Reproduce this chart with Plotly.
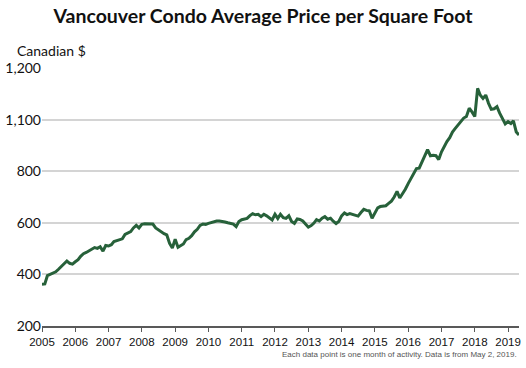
import plotly.graph_objects as go
import pandas as pd

# Monthly average price per square foot (Canadian $), Jan 2005 onward
prices = [
    362, 363, 395, 400, 403, 410, 420, 430, 442, 452, 443, 440,   # 2005
    449, 457, 470, 480, 485, 492, 500, 504, 501, 507, 490, 512,   # 2006
    510, 515, 527, 530, 533, 538, 555, 562, 566, 580, 590, 580,   # 2007
    594, 596, 596, 596, 595, 580, 572, 566, 558, 553, 520, 502,   # 2008
    536, 505, 510, 518, 535, 540, 550, 565, 575, 590, 595, 594,   # 2009
    598, 602, 606, 607, 607, 606, 603, 600, 598, 595, 585, 605,   # 2010
    612, 615, 617, 628, 635, 631, 633, 624, 633, 627, 620, 611,   # 2011
    633, 617, 633, 620, 617, 627, 605, 598, 615, 613, 607, 594,   # 2012
    583, 589, 598, 612, 607, 618, 624, 614, 618, 606, 597, 605,   # 2013
    627, 638, 632, 636, 633, 628, 626, 640, 652, 648, 646, 618,   # 2014
    640, 658, 663, 665, 666, 675, 684, 700, 722, 696, 712, 730,   # 2015
    752, 770, 790, 810, 812, 835, 860, 884, 860, 862, 860, 845,   # 2016
    875, 898, 915, 930, 952, 966, 980, 992, 1006, 1012, 1044, 1030,  # 2017
    1012, 1121, 1095, 1082, 1095, 1063, 1040, 1042, 1050, 1025, 1005, 983,  # 2018
    992, 985, 995, 952, 940,  # 2019
]
dates = pd.date_range("2005-01-01", periods=len(prices), freq="MS")

year_ticks = [str(y) for y in range(2005, 2020)]
y_tickvals = [200, 400, 600, 800, 1000, 1200]
y_ticktext = ["200", "400", "600", "800", "1,100", "1,200"]

fig = go.Figure()
fig.add_trace(go.Scatter(
    x=dates, y=prices, mode="lines",
    line=dict(color="#27613a", width=3),
    hoverinfo="skip",
))

fig.update_layout(
    width=526, height=368,
    margin=dict(l=36, r=5, t=68, b=42),
    paper_bgcolor="white", plot_bgcolor="white",
    showlegend=False,
    title=dict(
        text="<b>Vancouver Condo Average Price per Square Foot</b>",
        x=0.5, xanchor="center", xref="container",
        y=1 - 16 / 368, yanchor="middle", yref="container",
        font=dict(family="Lato", size=19.5, color="#111111"),
    ),
    xaxis=dict(
        type="date",
        range=["2005-01-01", "2019-05-01"],
        tickvals=[f"{y}-01-01" for y in year_ticks],
        ticktext=year_ticks,
        showgrid=False,
        showline=True, linecolor="#595959", linewidth=1.5,
        ticks="outside", ticklen=4, tickcolor="#595959", tickwidth=1,
        tickfont=dict(family="Liberation Sans", size=11.5, color="#111111"),
        zeroline=False,
    ),
    yaxis=dict(
        range=[200, 1200],
        tickvals=y_tickvals,
        ticktext=y_ticktext,
        showgrid=True, gridcolor="#d4d4d4", gridwidth=1.5,
        showline=False, zeroline=False,
        ticks="", ticklen=0,
        tickfont=dict(family="Lato", size=14, color="#111111"),
    ),
    annotations=[
        dict(text="Canadian $", xref="paper", yref="paper",
             x=(9 - 36) / 485, y=1 + (68 - 50) / 258,
             xanchor="left", yanchor="middle", showarrow=False,
             font=dict(family="Lato", size=14, color="#111111")),
        dict(text="Each data point is one month of activity. Data is from May 2, 2019.",
             xref="paper", yref="paper",
             x=(521 - 36) / 485, y=(326 - 354) / 258,
             xanchor="right", yanchor="middle", showarrow=False,
             font=dict(family="Liberation Sans", size=8, color="#555555")),
    ],
)

fig.write_html(
    "out.html",
    config={"displayModeBar": False},
    post_script="document.body.style.margin='0';document.body.style.padding='0';",
)
